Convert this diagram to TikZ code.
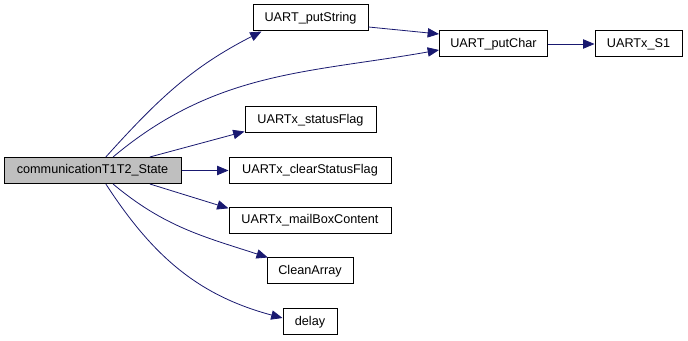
\documentclass[tikz,border=0pt]{standalone}
\usepackage{fontspec}
\setmainfont{Liberation Sans}
\usepackage{tikz}
\usetikzlibrary{arrows.meta}
\definecolor{edgeblue}{HTML}{191970}

\begin{document}
\begin{tikzpicture}[x=0.75pt,y=0.75pt,font=\fontsize{9.5}{11}\selectfont,
  fn/.style={draw=black,line width=0.75pt,fill=white,minimum height=19.5pt,inner sep=0pt},
  call/.style={draw=edgeblue,line width=0.6pt,-{Triangle[length=8.5pt,width=7pt]}}]
\useasboundingbox (0,0) rectangle (688,-341);
\node[fn,fill=black!25,minimum width=132.75pt] (main) at (92.5,-170.5) {communicationT1T2\_State};
\node[fn,minimum width=86.25pt] (pstr) at (310.5,-18) {UART\_putString};
\node[fn,minimum width=81pt] (pchar) at (493.5,-44) {UART\_putChar};
\node[fn,minimum width=65.25pt] (s1) at (638.5,-44) {UARTx\_S1};
\node[fn,minimum width=98.25pt] (stat) at (310.5,-120) {UARTx\_statusFlag};
\node[fn,minimum width=121.5pt] (clr) at (310,-170.5) {UARTx\_clearStatusFlag};
\node[fn,minimum width=121.5pt] (mbox) at (310,-220.5) {UARTx\_mailBoxContent};
\node[fn,minimum width=64.5pt] (clean) at (310,-271) {CleanArray};
\node[fn,minimum width=40.5pt] (dly) at (310,-322) {delay};
\draw[call] ([xshift=10pt]main.north) to[out=48,in=207] ([xshift=6.75pt]pstr.south west);
\draw[call] ([xshift=15.4pt]main.north) to[out=40,in=190] ([yshift=-4.5pt]pchar.west);
\draw[call] ([xshift=43pt]main.north) -- ([yshift=1.5pt]stat.south west);
\draw[call] (main) -- (clr);
\draw[call] ([xshift=43pt]main.south) -- ([yshift=-1pt]mbox.north west);
\draw[call] ([xshift=15.4pt]main.south) to[out=-40,in=162] ([xshift=1pt]clean.north west);
\draw[call] ([xshift=10pt]main.south) to[out=-57,in=165] ([yshift=3pt]dly.west);
\draw[call] ([yshift=-6.75pt]pstr.east) -- ([yshift=7.5pt]pchar.west);
\draw[call] (pchar) -- (s1);
\end{tikzpicture}
\end{document}
